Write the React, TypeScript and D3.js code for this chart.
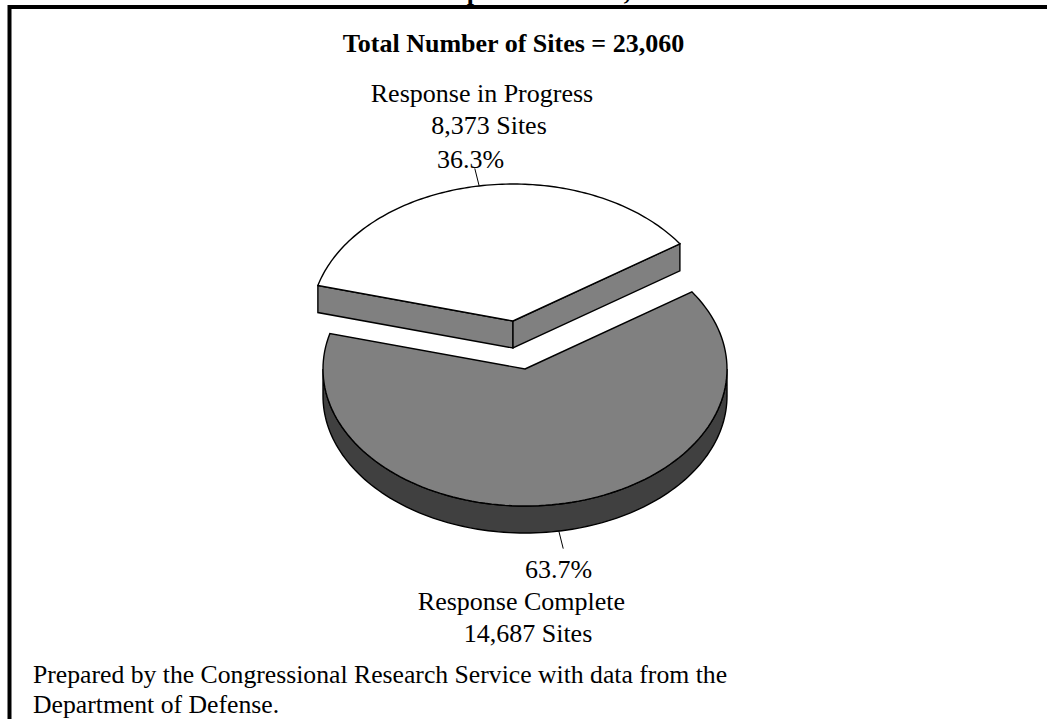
import React from "react";
import * as d3 from "d3";

const categories = ["Response in Progress", "Response Complete"];
const siteCounts = [8373, 14687];
const percentLabels = ["36.3%", "63.7%"];
const siteLabels = ["8,373 Sites", "14,687 Sites"];
const chartTitle = "Total Number of Sites = 23,060";
const footerLines = [
  "Prepared by the Congressional Research Service with data from the",
  "Department of Defense.",
];

const W = 1047;
const H = 719;
const RX = 202;
const RY = 137;
const DEPTH = 27;
const FONT = "'Liberation Serif', 'Times New Roman', serif";
const START = (-75 * Math.PI) / 180;

const centers = [
  { x: 513, y: 321 },
  { x: 525, y: 369 },
];

const pie = d3
  .pie<number>()
  .sort(null)
  .startAngle(START)
  .endAngle(START + 2 * Math.PI);
const arcs = pie(siteCounts);

const px = (c: { x: number }, a: number, k = 1) => c.x + RX * k * Math.sin(a);
const py = (c: { y: number }, a: number, k = 1, dz = 0) => c.y - RY * k * Math.cos(a) + dz;

const line = d3.line<[number, number]>();

function rimPoints(c: { x: number; y: number }, a0: number, a1: number, dz = 0): [number, number][] {
  const scale = d3.scaleLinear().domain([0, 120]).range([a0, a1]);
  return d3.range(121).map((i) => [px(c, scale(i)), py(c, scale(i), 1, dz)] as [number, number]);
}

function topPath(c: { x: number; y: number }, a0: number, a1: number) {
  return line([[c.x, c.y], ...rimPoints(c, a0, a1)]) + "Z";
}

function sidePath(c: { x: number; y: number }, a0: number, a1: number) {
  const upper = rimPoints(c, a0, a1);
  const lower = rimPoints(c, a1, a0, DEPTH);
  return line([...upper, ...lower]) + "Z";
}

function cutPath(c: { x: number; y: number }, a: number) {
  const p: [number, number][] = [
    [c.x, c.y],
    [px(c, a), py(c, a)],
    [px(c, a), py(c, a, 1, DEPTH)],
    [c.x, c.y + DEPTH],
  ];
  return line(p) + "Z";
}

const labelRows = [
  { t: categories[0], x: 482, y: 102 },
  { t: siteLabels[0], x: 489, y: 134 },
  { t: percentLabels[0], x: 470.5, y: 168 },
  { t: percentLabels[1], x: 558.5, y: 578 },
  { t: categories[1], x: 521.5, y: 610 },
  { t: siteLabels[1], x: 528, y: 642 },
];

export default function App() {
  const white = arcs[0];
  const grey = arcs[1];
  const wc = centers[0];
  const gc = centers[1];
  const wMid = (white.startAngle + white.endAngle) / 2;
  const gMid = (grey.startAngle + grey.endAngle) / 2;
  const K = 1.13;
  const SW = 1.4;
  return (
    <svg
      width={W}
      height={H}
      viewBox={`0 0 ${W} ${H}`}
      style={{ position: "absolute", left: 0, top: 0, display: "block", background: "#fff" }}
    >
      <text x={474} y={0} fontFamily={FONT} fontWeight="bold" fontSize={26} textAnchor="middle">p</text>
      <text x={627} y={0} fontFamily={FONT} fontWeight="bold" fontSize={26} textAnchor="middle">,</text>
      <path d={`M${W},7H9.5V${H}`} fill="none" stroke="#000" strokeWidth={4} />
      <text x={513.5} y={52} fontFamily={FONT} fontWeight="bold" fontSize={26} textAnchor="middle">
        {chartTitle}
      </text>

      {/* Response Complete: wall then top */}
      <path d={sidePath(gc, Math.PI / 2, (3 * Math.PI) / 2)} fill="#404040" stroke="#000" strokeWidth={SW} />
      <path d={topPath(gc, grey.startAngle, grey.endAngle)} fill="#808080" stroke="#000" strokeWidth={SW} />

      {/* Response in Progress: cut faces then top */}
      <path d={cutPath(wc, white.startAngle)} fill="#808080" stroke="#000" strokeWidth={SW} />
      <path d={cutPath(wc, white.endAngle)} fill="#808080" stroke="#000" strokeWidth={SW} />
      <path d={topPath(wc, white.startAngle, white.endAngle)} fill="#fff" stroke="#000" strokeWidth={SW} />

      <path
        d={line([
          [px(wc, wMid), py(wc, wMid)],
          [px(wc, wMid, K), py(wc, wMid, K)],
        ]) ?? ""}
        stroke="#000"
        strokeWidth={1}
      />
      <path
        d={line([
          [px(gc, gMid), py(gc, gMid, 1, DEPTH)],
          [px(gc, gMid, K), py(gc, gMid, K, DEPTH)],
        ]) ?? ""}
        stroke="#000"
        strokeWidth={1}
      />

      {labelRows.map((r) => (
        <text key={r.t} x={r.x} y={r.y} fontFamily={FONT} fontSize={26} textAnchor="middle" fill="#000">
          {r.t}
        </text>
      ))}
      {footerLines.map((t, i) => (
        <text key={t} x={33} y={683 + i * 30} fontFamily={FONT} fontSize={25.7} fill="#000">
          {t}
        </text>
      ))}
    </svg>
  );
}
